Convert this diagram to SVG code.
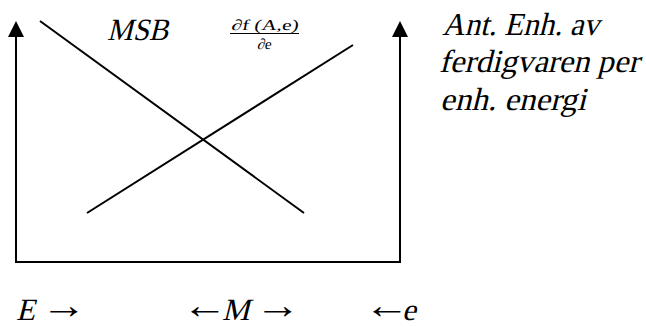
<svg xmlns="http://www.w3.org/2000/svg" width="646" height="327" viewBox="0 0 646 327">
<style>
.t{font-family:"Liberation Serif",serif;fill:#000}
.r{font-family:"Liberation Serif",serif;fill:#000;font-size:38px}
.ln{stroke:#000;stroke-width:2;fill:none}
</style>
<g id="axes">
<path class="ln" d="M16,37 L16,262 L400,262 L400,37" stroke-width="2.5"/>
<path d="M8,37 L16,21 L24,37 Z" fill="#000"/>
<path d="M392,37 L400,21 L408,37 Z" fill="#000"/>
</g>
<g id="connectors">
<line class="ln" x1="40" y1="21" x2="304" y2="213"/>
<line class="ln" x1="87" y1="213" x2="353" y2="45"/>
</g>
<g id="msb"><text class="t" transform="translate(107,40) skewX(-14)" font-size="31" textLength="61" lengthAdjust="spacingAndGlyphs">MSB</text></g>
<g id="deriv">
<text class="t" transform="translate(231,30) skewX(-10)" font-size="15" textLength="67" lengthAdjust="spacingAndGlyphs">∂f (A,e)</text>
<line x1="230" y1="33.5" x2="299" y2="33.5" stroke="#000" stroke-width="1"/>
<text class="t" transform="translate(264,49) skewX(-10)" font-size="15" text-anchor="middle">∂e</text>
</g>
<g id="label">
<text class="t" transform="translate(442,35) skewX(-14)" font-size="32" textLength="157" lengthAdjust="spacingAndGlyphs">Ant. Enh. av</text>
<text class="t" transform="translate(439,72) skewX(-14)" font-size="32" textLength="200" lengthAdjust="spacingAndGlyphs">ferdigvaren per</text>
<text class="t" transform="translate(440,110) skewX(-14)" font-size="32" textLength="146" lengthAdjust="spacingAndGlyphs">enh. energi</text>
</g>
<g id="bottom">
<text class="t" transform="translate(16,320) skewX(-14)" font-size="31">E</text>
<text class="r" transform="translate(41,318) scale(1.2,1)">→</text>
<text class="r" transform="translate(182,318) scale(1.2,1)">←</text>
<text class="t" transform="translate(222,320) skewX(-14)" font-size="31">M</text>
<text class="r" transform="translate(255,318) scale(1.2,1)">→</text>
<text class="r" transform="translate(364,318) scale(1.2,1)">←</text>
<text class="t" transform="translate(402,320) skewX(-14)" font-size="31">e</text>
</g>
</svg>
